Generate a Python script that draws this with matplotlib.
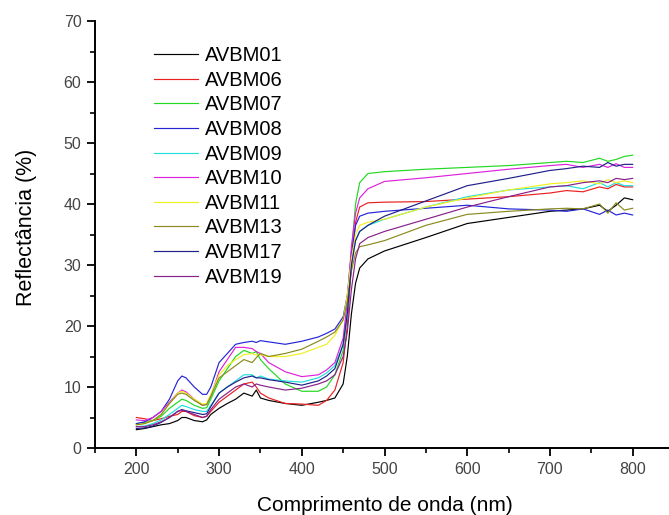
import matplotlib
matplotlib.use("Agg")
import matplotlib.pyplot as plt
from matplotlib.ticker import MultipleLocator

plt.rcParams['font.family'] = ['Liberation Sans', 'DejaVu Sans']

wavelength = [200, 210, 220, 230, 240, 250, 255, 260, 270, 280, 285, 290, 300, 310, 320,
              330, 340, 345, 350, 360, 380, 400, 420, 430, 440, 450, 455, 460, 465, 470,
              480, 500, 550, 600, 650, 700, 720, 740, 760, 770, 780, 790, 800]

avbm01 = [3.0, 3.2, 3.5, 3.8, 4.0, 4.5, 5.0, 5.0, 4.5, 4.3, 4.6, 5.5, 6.5, 7.3, 8.0,
          9.0, 8.5, 9.5, 8.2, 7.8, 7.3, 7.0, 7.5, 7.8, 8.2, 10.5, 15, 22, 27, 29.5,
          31, 32.3, 34.5, 36.8, 37.8, 38.8, 39.0, 39.2, 39.8, 38.8, 39.8, 41.0, 40.7]
avbm06 = [5.0, 4.8, 4.5, 4.8, 5.2, 5.5, 6.0, 6.0, 5.3, 5.0, 5.2, 6.0, 7.5, 8.5, 9.5,
          10.5, 10.8, 10.0, 9.0, 8.2, 7.3, 7.2, 7.0, 7.8, 9.5, 14, 20, 30, 37, 39.5,
          40.2, 40.3, 40.4, 40.8, 41.2, 41.8, 42.2, 42.0, 42.8, 42.5, 43.2, 42.8, 42.8]
avbm07 = [4.0, 4.2, 4.5, 5.2, 6.5, 7.5, 8.0, 7.8, 7.0, 6.5, 6.6, 8.0, 11, 13, 15,
          16, 15.5, 15.8, 14.5, 13, 10.5, 9.3, 9.3, 10, 12, 16, 22, 32, 40, 43.5,
          45, 45.3, 45.7, 46.0, 46.3, 46.8, 47.0, 46.8, 47.5, 47.0, 47.3, 47.8, 48.0]
avbm08 = [4.0, 4.3, 5.0, 6.0, 8.0, 11.0, 11.8, 11.5, 10.0, 8.8, 8.8, 10.0, 14.0, 15.5, 17.0,
          17.3, 17.5, 17.3, 17.6, 17.4, 17.0, 17.5, 18.2, 18.8, 19.5, 21.5, 25, 32, 36.5, 38,
          38.5, 38.8, 39.3, 39.8, 39.2, 39.0, 38.8, 39.2, 38.3, 39.0, 38.2, 38.5, 38.2]
avbm09 = [3.5, 3.6, 4.0, 4.6, 5.5, 6.5, 7.0, 6.8, 6.3, 6.0, 6.0, 7.0, 9.0, 10.0, 11.0,
          12.0, 12.0, 11.5, 11.8, 11.3, 11.0, 10.8, 11.5, 12.3, 13.5, 17, 22, 30, 34, 35.5,
          36.5, 37.5, 39.5, 41.2, 42.3, 42.8, 43.0, 42.5, 43.5, 42.8, 43.5, 43.0, 43.0]
avbm10 = [4.6, 4.5, 5.0, 6.0, 7.5, 9.0, 9.5, 9.2, 8.0, 7.0, 7.2, 8.5, 12.5, 14.5, 16.5,
          16.5, 16.3, 15.8, 15.5, 14, 12.5, 11.7, 12.0, 12.8, 14, 18, 24, 33, 38.5, 41,
          42.5, 43.7, 44.3, 45, 45.7, 46.3, 46.5, 46.0, 46.5, 46.0, 46.6, 46.0, 46.0]
avbm11 = [3.8, 4.0, 4.5, 5.5, 7.3, 9.0, 9.3, 9.0, 8.0, 7.2, 7.3, 8.8, 12, 13.5, 14.5,
          15.3, 15.5, 15.2, 15.3, 15, 15, 15.5, 16.5, 17, 18.5, 21, 25, 31, 35, 36.5,
          37, 37.5, 39.5, 41, 42.3, 43.3, 43.5, 43.8, 43.3, 44.0, 43.5, 43.8, 43.5]
avbm13 = [3.8, 4.0, 4.5, 5.5, 7.3, 8.8, 9.0, 8.8, 7.8, 7.0, 7.1, 8.5, 11.5, 12.5, 13.5,
          14.5, 14.0, 14.8, 15.5, 15.0, 15.5, 16.2, 17.5, 18.2, 19.0, 21, 24, 29, 32, 33,
          33.3, 34, 36.5, 38.3, 38.8, 39.2, 39.3, 39.2, 40.0, 38.5, 40.2, 39.0, 39.3]
avbm17 = [3.2, 3.3, 3.6, 4.2, 5.0, 6.0, 6.3, 6.1, 5.8, 5.5, 5.6, 6.8, 9.0, 10.0, 10.8,
          11.5, 11.8, 11.5, 11.5, 11.2, 10.8, 10.3, 11.0, 11.8, 13, 17, 22, 30, 34, 35.5,
          36.5, 38, 40.5, 43, 44.2, 45.5, 45.8, 46.2, 46.0, 46.8, 46.2, 46.5, 46.5]
avbm19 = [3.5, 3.5, 3.8, 4.3, 5.0, 6.0, 6.2, 6.0, 5.5, 5.0, 5.2, 6.3, 8.0, 9.0, 10.0,
          10.5, 10.0, 10.5, 10.3, 10.0, 9.5, 9.8, 10.5, 11, 12, 15, 19, 26, 31, 33.5,
          34.5, 35.5, 37.5, 39.5, 41.2, 42.8, 43.0, 43.5, 43.8, 43.5, 44.2, 44.0, 44.2]

labels = ['AVBM01', 'AVBM06', 'AVBM07', 'AVBM08', 'AVBM09',
          'AVBM10', 'AVBM11', 'AVBM13', 'AVBM17', 'AVBM19']
series = [avbm01, avbm06, avbm07, avbm08, avbm09, avbm10, avbm11, avbm13, avbm17, avbm19]
colors = ['#000000', '#e82020', '#22d822', '#2424d8', '#22dede',
          '#dc22dc', '#f0f020', '#8a8a1e', '#20208a', '#8a208a']

fig = plt.figure(figsize=(6.69, 5.15), dpi=100)
ax = fig.add_axes([95 / 669, 67 / 515, 579 / 669, 427 / 515])

for lab, ys, c in zip(labels, series, colors):
    ax.plot(wavelength, ys, color=c, lw=0.85, label=lab)

ax.set_xlim(150, 850)
ax.set_ylim(0, 70)
ax.xaxis.set_major_locator(MultipleLocator(100))
ax.xaxis.set_minor_locator(MultipleLocator(50))
ax.yaxis.set_major_locator(MultipleLocator(10))
ax.yaxis.set_minor_locator(MultipleLocator(5))
ax.set_xticks([200, 300, 400, 500, 600, 700, 800])

for s in ['top', 'right']:
    ax.spines[s].set_visible(False)
for s in ['left', 'bottom']:
    ax.spines[s].set_linewidth(1.4)

ax.tick_params(which='major', direction='out', length=5.8, width=1.3,
               labelsize=11.5, labelcolor='#444444', pad=4)
ax.tick_params(which='minor', direction='out', length=3.6, width=1.2)

ax.set_xlabel('Comprimento de onda (nm)', fontsize=15)
ax.set_ylabel('Reflectância (%)', fontsize=15.5)
ax.xaxis.set_label_coords(0.5, -0.112)
ax.yaxis.set_label_coords(-0.100, 0.516)

leg = ax.legend(loc='upper left', frameon=False, fontsize=14.5,
                handlelength=2.2, handletextpad=0.33, labelspacing=0.28,
                borderpad=0, borderaxespad=0)
leg.set_bbox_to_anchor((154 / 669, 1 - 46 / 515), transform=fig.transFigure)

fig.savefig('out.png', dpi=100)
